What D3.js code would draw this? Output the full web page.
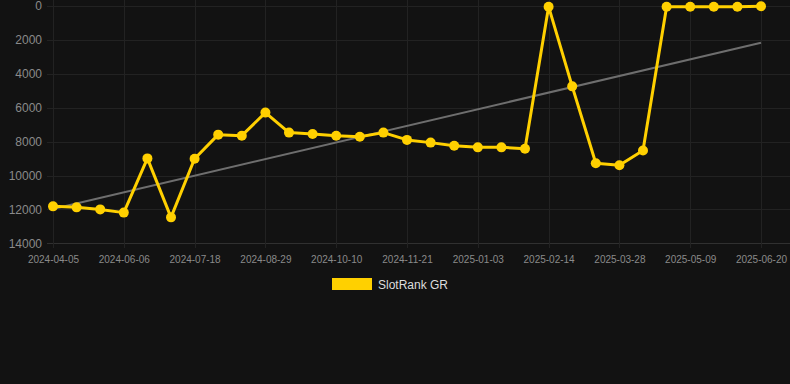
<!DOCTYPE html>
<meta charset="utf-8">
<html>
<head>
<style>
  body { margin: 0; background: #121212; }
  svg { display: block; font-family: "Liberation Sans", Arial, sans-serif; }
  .grid line { stroke: #222; stroke-width: 1; shape-rendering: crispEdges; }
  .axis text { fill: #8a8a8a; }
  .axis path, .axis line { display: none; }
</style>
</head>
<body>
<script src="https://cdn.jsdelivr.net/npm/d3@7/dist/d3.min.js"></script>
<script>
// categories (one per snapshot)
var dates = [
  "2024-04-05","2024-04-26","2024-05-16","2024-06-06","2024-06-20","2024-07-04",
  "2024-07-18","2024-08-01","2024-08-15","2024-08-29","2024-09-12","2024-09-26",
  "2024-10-10","2024-10-24","2024-11-07","2024-11-21","2024-12-05","2024-12-20",
  "2025-01-03","2025-01-17","2025-01-31","2025-02-14","2025-02-28","2025-03-14",
  "2025-03-28","2025-04-11","2025-04-25","2025-05-09","2025-05-23","2025-06-06",
  "2025-06-20"
];
// rank values
var ranks = [
  11820, 11880, 12000, 12190, 8990, 12470,
  9010, 7590, 7650, 6290, 7470, 7550,
  7650, 7710, 7470, 7900, 8060, 8240,
  8340, 8340, 8420, 40, 4740, 9280,
  9400, 8530, 40, 40, 40, 40,
  10
];
var yTicks = [0, 2000, 4000, 6000, 8000, 10000, 12000, 14000];
var seriesName = "SlotRank GR";

var W = 790, H = 384;
var plotLeft = 47, plotRight = 790, plotTop = 6, plotBottom = 243.3;

var svg = d3.select("body").append("svg")
    .attr("width", W)
    .attr("height", H);

var x = d3.scalePoint()
    .domain(dates)
    .range([53, 761]);

var y = d3.scaleLinear()
    .domain([0, 14000])
    .range([plotTop, plotBottom]);

var tickDates = dates.filter(function(d, i) { return i % 3 === 0; });

// grid
var grid = svg.append("g").attr("class", "grid");
grid.selectAll(".h")
    .data(yTicks)
    .enter().append("line")
    .attr("x1", plotLeft).attr("x2", plotRight)
    .attr("y1", function(d) { return Math.round(y(d)) + 0.5; })
    .attr("y2", function(d) { return Math.round(y(d)) + 0.5; })
    .style("stroke", function(d) { return d === 14000 ? "#303030" : "#222"; });
grid.selectAll(".v")
    .data(tickDates)
    .enter().append("line")
    .attr("x1", function(d) { return Math.round(x(d)) + 0.5; })
    .attr("x2", function(d) { return Math.round(x(d)) + 0.5; })
    .attr("y1", 0).attr("y2", plotBottom + 5);

// axes
svg.append("g")
    .attr("class", "axis")
    .attr("transform", "translate(" + 42 + ",0)")
    .call(d3.axisLeft(y).tickValues(yTicks).tickSize(0).tickPadding(0).tickFormat(d3.format("d")))
    .selectAll("text")
    .style("font-size", "12px");

svg.append("g")
    .attr("class", "axis")
    .attr("transform", "translate(0," + (plotBottom + 10) + ")")
    .call(d3.axisBottom(x).tickValues(tickDates).tickSize(0).tickPadding(3))
    .selectAll("text")
    .style("font-size", "10px");

// trend line (least squares over the series)
var n = ranks.length;
var mx = d3.mean(ranks, function(d, i) { return i; });
var my = d3.mean(ranks);
var sxy = 0, sxx = 0;
ranks.forEach(function(v, i) { sxy += (i - mx) * (v - my); sxx += (i - mx) * (i - mx); });
var slope = sxy / sxx, icpt = my - slope * mx;

svg.append("line")
    .attr("x1", x(dates[0])).attr("y1", y(icpt))
    .attr("x2", x(dates[n - 1])).attr("y2", y(icpt + slope * (n - 1)))
    .style("stroke", "#6e6e6e")
    .style("stroke-width", 2);

var data = dates.map(function(d, i) { return { date: d, value: ranks[i] }; });

svg.append("path")
    .datum(data)
    .attr("fill", "none")
    .attr("stroke", "#ffd000")
    .attr("stroke-width", 3)
    .attr("stroke-linejoin", "round")
    .attr("d", d3.line()
        .x(function(d) { return x(d.date); })
        .y(function(d) { return y(d.value); }));

svg.selectAll(".dot")
    .data(data)
    .enter().append("circle")
    .attr("cx", function(d) { return x(d.date); })
    .attr("cy", function(d) { return y(d.value); })
    .attr("r", 5)
    .style("fill", "#ffd000");

// legend
svg.append("rect")
    .attr("x", 332).attr("y", 278)
    .attr("width", 40).attr("height", 12)
    .style("fill", "#ffd000");
svg.append("text")
    .attr("x", 378).attr("y", 289)
    .style("fill", "#dddddd")
    .style("font-size", "12px")
    .text(seriesName);
</script>
</body>
</html>
